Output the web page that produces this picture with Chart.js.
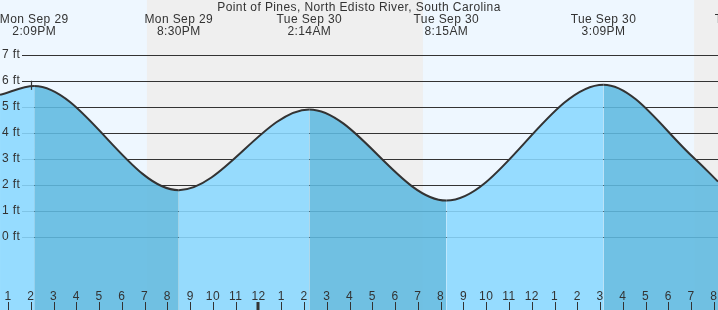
<!DOCTYPE html>
<html>
<head>
<meta charset="utf-8">
<script src="https://cdn.jsdelivr.net/npm/chart.js@4/dist/chart.umd.min.js"></script>
<style>
html,body{margin:0;padding:0;background:#fff;}
canvas{display:block;}
</style>
</head>
<body>
<canvas id="c" width="718" height="310"></canvas>
<script>
// ---- data (hours counted from Mon Sep 29 00:00) ----
const title = "Point of Pines, North Edisto River, South Carolina";
const tideHours   = [12.65, 14.15, 20.5, 26.233, 32.25, 39.15, 43.17, 44.18];
const tideHeights = [5.46,  5.8,   1.8,  4.9,    1.4,   5.85,  3.0,   2.13];
const extremeDays  = ["Mon Sep 29", "Mon Sep 29", "Tue Sep 30", "Tue Sep 30", "Tue Sep 30", "Tue Sep 30"];
const extremeTimes = ["2:09PM", "8:30PM", "2:14AM", "8:15AM", "3:09PM", "9:29PM"];
const extremeHours = [14.15, 20.5, 26.233, 32.25, 39.15, 45.483];
const nightStarts = [19.1, 43.13];
const nightEnds   = [31.22, 50];
const hourTicks = [13,14,15,16,17,18,19,20,21,22,23,24,25,26,27,28,29,30,31,32,33,34,35,36,37,38,39,40,41,42,43,44];
const ftTicks = [0,1,2,3,4,5,6,7];
const nowHour = 14.0;
const xMin = 12.649, xMax = 44.18;
const yMin = -2.8, yMax = 9.1;

const FONT = '12px "Liberation Sans", Arial, sans-serif';
const TXT = '#333';
const LIGHT = 'rgba(138,216,255,0.88)';
const DARK  = 'rgba(95,185,224,0.88)';

const bgPlugin = {
  id: 'bg',
  beforeDraw(chart) {
    const {ctx, chartArea: a, scales: {x}} = chart;
    ctx.save();
    ctx.fillStyle = '#eef7ff';
    ctx.fillRect(0, 0, chart.width, chart.height);
    ctx.fillStyle = '#efefef';
    nightStarts.forEach((s, i) => {
      const x0 = x.getPixelForValue(s), x1 = x.getPixelForValue(nightEnds[i]);
      ctx.fillRect(x0, a.top, x1 - x0, a.bottom - a.top);
    });
    ctx.restore();
  },
  beforeDatasetsDraw(chart) {
    const {ctx, chartArea: a, scales: {y}} = chart;
    ctx.save();
    ctx.strokeStyle = '#333';
    ctx.lineWidth = 1;
    ftTicks.forEach(v => {
      const py = Math.round(y.getPixelForValue(v)) + 0.5;
      ctx.beginPath();
      ctx.moveTo(22, py);
      ctx.lineTo(a.right, py);
      ctx.stroke();
    });
    ctx.restore();
  },
  afterDatasetsDraw(chart) {
    const {ctx, chartArea: a, scales: {x, y}} = chart;
    ctx.save();
    ctx.font = FONT;
    ctx.fillStyle = TXT;
    try { ctx.letterSpacing = '0.4px'; } catch (e) {}
    // y labels
    ctx.textAlign = 'left';
    ctx.textBaseline = 'middle';
    ftTicks.forEach(v => {
      ctx.fillText(v + ' ft', 2, y.getPixelForValue(v));
    });
    // hour labels and ticks
    ctx.textAlign = 'center';
    ctx.textBaseline = 'alphabetic';
    ctx.strokeStyle = '#333';
    hourTicks.forEach(h => {
      const px = x.getPixelForValue(h);
      const lab = (h % 12) === 0 ? 12 : h % 12;
      ctx.fillText(String(lab), px, 300);
      const mid = (h % 24) === 0;
      ctx.lineWidth = mid ? 3 : 1;
      const sx = mid ? Math.round(px) : Math.round(px) + 0.5;
      ctx.beginPath();
      ctx.moveTo(sx, 302);
      ctx.lineTo(sx, a.bottom);
      ctx.stroke();
    });
    // extreme labels
    extremeHours.forEach((h, i) => {
      const px = x.getPixelForValue(h);
      ctx.fillText(extremeDays[i], px, 23);
      ctx.fillText(extremeTimes[i], px, 35);
    });
    // title
    ctx.fillText(title, (a.left + a.right) / 2, 11);
    // now marker
    const nx = Math.round(x.getPixelForValue(nowHour)) + 0.5;
    ctx.lineWidth = 1.2;
    ctx.beginPath();
    ctx.moveTo(nx, y.getPixelForValue(6.0));
    ctx.lineTo(nx, y.getPixelForValue(5.65));
    ctx.stroke();
    ctx.restore();
  }
};

new Chart(document.getElementById('c'), {
  type: 'line',
  data: {
    datasets: [{
      data: tideHours.map((h, i) => ({x: h, y: tideHeights[i]})),
      borderColor: '#333',
      borderWidth: 2,
      pointRadius: 0,
      fill: 'start',
      backgroundColor: LIGHT,
      cubicInterpolationMode: 'monotone',
      segment: {
        backgroundColor: c => c.p1.parsed.y > c.p0.parsed.y ? LIGHT : DARK
      }
    }]
  },
  options: {
    responsive: false,
    animation: false,
    layout: {padding: 0},
    plugins: {legend: {display: false}, tooltip: {enabled: false}, title: {display: false}},
    scales: {
      x: {type: 'linear', min: xMin, max: xMax, display: false},
      y: {type: 'linear', min: yMin, max: yMax, display: false}
    }
  },
  plugins: [bgPlugin]
});
</script>
</body>
</html>
